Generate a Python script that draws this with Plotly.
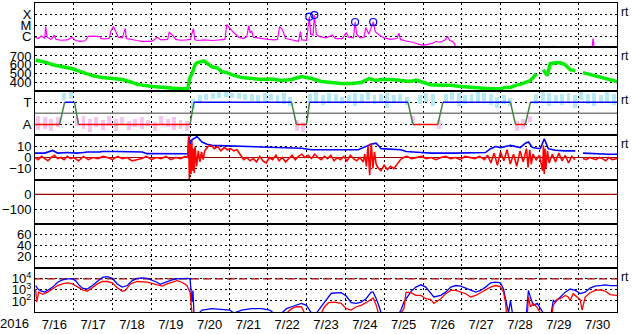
import pandas as pd
import plotly.graph_objects as go
from plotly.subplots import make_subplots

START = pd.Timestamp("2016-07-16 00:00")
END = pd.Timestamp("2016-07-31 00:00")

# ---------------- data (hours from 2016-07-16 00:00 UT) ----------------
# GOES X-ray flux (W/m^2)
xray_h = [0, 2, 4, 6, 6.6, 7.5, 10, 12, 13, 16, 20, 23, 25, 28, 31, 33, 36, 40, 41, 44, 46, 47, 48.5, 50, 51.5, 54,
          55.8, 56.5, 60, 63, 66, 70, 72, 74, 75.5, 78, 82, 83, 85, 87, 90, 94, 96, 98, 98.8, 100, 105, 110, 115,
          117.5, 118.6, 121, 123, 126, 129, 131, 132.2, 133, 134, 135, 140, 144, 148, 150, 151.3, 153, 155, 160,
          163, 164.2, 165, 168, 169.7, 170.5, 172, 172.8, 174, 176, 180, 184, 186, 190, 192.5, 194, 197, 198, 199,
          201, 203.5, 204.6, 206.5, 209.2, 210.5, 213, 216, 220, 224, 225.2, 226, 230, 234, 237, 240, 243, 246,
          248, 250, 252, 254, 255.2, 256.5, 258, 259.6, 260, 301, 301.5, 302, 320, 320.6, 321, 344.5, 345.2, 346, 360]
xray_v = [8e-7, 6e-7, 1.0e-6, 6e-7, 7.4e-6, 8e-7, 5e-7, 1.2e-6, 5e-7, 4.2e-7, 4.5e-7, 7.7e-7, 4e-7, 3.4e-7, 3.8e-7,
          9.5e-7, 1.0e-6, 9e-7, 6e-7, 5.5e-7, 6.3e-7, 3e-6, 7.4e-6, 2.5e-6, 8e-7, 7e-7,
          4.9e-6, 6e-7, 4.5e-7, 4e-7, 3.4e-7, 3.2e-7, 3.4e-7, 5e-7, 7.7e-7, 4.5e-7, 5e-7, 2.2e-6, 1.2e-6, 5e-7,
          4.2e-7, 4.5e-7, 5e-7, 4.9e-6, 5e-7, 4e-7, 4.5e-7, 4e-7, 4.2e-7,
          5e-7, 1.1e-5, 4e-6, 2e-6, 8e-7, 6e-7, 9e-7, 9e-6, 2e-6, 3e-6, 8e-7, 6e-7, 5e-7, 4.5e-7, 5e-7, 7.4e-6,
          4e-6, 6e-7, 4e-7,
          3.4e-7, 2.6e-6, 4.5e-7, 4.2e-7, 5.8e-5, 1.5e-6, 1.2e-6, 8.1e-5, 1.5e-6, 9e-7, 7e-7, 1.2e-6, 6e-7, 6e-7,
          2e-6, 8e-7, 7e-7, 1.9e-5, 1.5e-6,
          7e-7, 8e-7, 6e-6, 1.5e-6, 1.9e-5, 2.5e-6, 1.2e-6, 7e-7, 5e-7, 6e-7, 1.8e-6, 5e-7, 3.4e-7, 2.8e-7, 1.85e-7,
          1.5e-7, 1.8e-7, 2.3e-7,
          3.4e-7, 2.8e-7, 3.4e-7, 5e-7, 9.5e-7, 4e-7, 3.4e-7, 2e-7, 6e-8, 6e-8, 1.3e-7, 6e-8, 6e-8, 1.3e-7, 6e-8,
          6e-8, 6.3e-7, 6e-8, 6e-8]
flare_h = [169.7, 172.8, 198, 209.2]
flare_v = [5.8e-5, 8.1e-5, 1.9e-5, 1.9e-5]

# Solar wind speed (km/s)
vsw_h = [0.4, 4, 7.8, 11, 14, 18.9, 23.2, 26.3, 29.4, 35.5, 41.7, 47.8, 54, 60.2, 63.2, 72.5, 81.7, 89.7, 94.6, 95.5,
         97.1, 99, 100.2, 103.3, 104.5, 109.4, 112.5, 115.6, 118.6, 121.7, 127.9, 134, 140.2, 146.4, 152.5, 158.7,
         164.8, 171, 177.1, 183.3, 189.4, 195.6, 201.7, 206.6, 210.9, 214.1, 220.2, 226.4, 232.5, 235.6, 238.7,
         244.8, 251, 257.2, 263.3, 269.5, 275.6, 281.8, 287.9, 291, 294.1, 297.2, 300.2, 303.3, 306.4, 308.2,
         310.1, 312, 314.4, 316.9, 318.7, 321.8, 324.9, 328, 331, 334.2, 336, 339, 343.3, 349.5, 355.7, 360]
vsw_v = [655, 640, 622, 600, 589, 567, 555, 533, 511, 478, 455, 444, 433, 400, 378, 355, 344, 328, 333, 440,
         500, 600, 622, 633, 644, 578, 567, 522, 511, 489, 455, 444, 433, 440, 422, 433,
         467, 444, 411, 400, 389, 389, 400, 444, 422, 433, 433, 422, 411, 426, 411,
         374, 367, 367, 355, 344, 333, 330, 330, 344, 344, 367, 378, 400, 422, 455,
         500, None, 544, 478, 611, 622, 622, 600, 544, 533, None, 511, 489, 467, 433, 411]

# IMF sector (T = +1, A = -1)
sector_h = [0, 15.2, 18.3, 24.4, 26.9, 95.9, 98.3, 158.7, 161.7, 167.9, 169.8, 230.7, 233.8, 249.2, 252.3,
            294.1, 297.2, 303.3, 306.4, 360]
sector_v = [-1, -1, 1, 1, -1, -1, 1, 1, -1, -1, 1, 1, -1, -1, 1, 1, -1, -1, 1, 1]
phi_h = list(range(2, 360, 4))
phi_hi = [-0.3, -0.4, -0.5, -0.4, 1.8, 1.9, -0.4, -0.3, -0.5, -0.4, -0.6, -0.3, -0.5, -0.4, -0.7, -0.5, -0.4,
          -0.6, -0.8, -0.3, -0.5, -0.4, -0.6, -0.7,
          1.3, 1.6, 1.7, 1.8, 1.9, 1.9, 1.8, 1.8, 1.7, 1.7, 1.6, 1.8, 1.7, 1.6, 1.8, 1.5,
          -0.6, -0.8,
          1.7, 1.9, 1.6, 1.8, 1.7, 1.5, 1.6, 1.8, 1.7, 1.9, 1.6, 1.7, 1.8, 1.6, 1.7, 1.5,
          -0.3, 1.6, 1.8, 1.7, -0.6,
          1.7, 1.9, 1.8, 1.6, 1.7, 1.9, 1.8, 1.7, 1.5, 1.6,
          1.4, -0.7, -0.5, -0.3,
          1.7, 1.9, 1.8, 1.6, 1.7, 1.8, 1.6, 1.9, 1.7, 1.8, 1.6, 1.9, 1.7]
phi_lo = [-1.5, -1.4, -1.6, -1.3, 1.2, 1.3, -1.2, -1.4, -1.7, -1.3, -1.5, -1.2, -1.6, -1.1, -1.5, -1.3, -1.4,
          -1.2, -1.6, -1.1, -1.3, -1.5, -1.4, -1.6,
          0.4, 0.9, 1.2, 1.3, 1.4, 1.5, 1.4, 1.3, 1.2, 1.1, 0.9, 1.0, 1.2, 1.0, 0.8, 0.6,
          -1.6, -1.7,
          0.9, 1.0, 0.7, 0.9, 1.1, 0.8, 1.0, 0.6, 0.9, 1.2, 0.8, 1.0, 0.5, 0.9, 1.1, 0.7,
          -0.9, 0.8, 1.0, 0.6, -1.4,
          0.9, 1.2, 0.6, 0.8, 1.0, 0.9, 1.1, 0.7, 0.5, 0.8,
          0.6, -1.6, -1.4, -0.8,
          0.8, 1.1, 0.6, 0.9, 0.7, 1.0, 0.5, 1.2, 0.8, 0.6, 1.0, 0.9, 0.7]

# IMF Bt and Bz (nT)
bt_h = [0, 6, 11, 14, 20, 26, 30, 32.4, 40, 41.7, 50, 60, 66.3, 69.4, 80, 90, 94.6, 95.2, 96, 97.1, 100.2, 103.3,
        106.4, 109.4, 120, 130, 140, 150, 160, 164.8, 171, 177, 190, 200, 207.9, 210.9, 213, 214, 226.4, 229.5,
        238.7, 245, 260, 270, 278.6, 281.8, 284.9, 287.9, 291, 294.1, 300.2, 303.3, 305.2, 307.7, 312.6, 315,
        317.5, 321.8, 328, 334.2, 336, 339, 345, 350, 355, 360]
bt_v = [4, 4, 6.4, 4, 4.5, 4, 4.5, 5, 5, 5.5, 5.5, 5.5, 5, 3.5, 3.5, 3.4, 3.4, 18.8, 12, 16, 19, 14,
        12, 11, 10.5, 10.4, 10, 9.5, 9, 8.4, 7, 7, 7, 7, 12, 13, 10, 8, 7, 5.5,
        4.5, 4, 4, 4, 4.5, 8, 10, 9, 10, 11, 9, 13, 14, 9, 8, 17,
        8, 6.5, 6, 6, None, 4, 3.5, 3.5, 3, 3]
bz_h = [0, 2, 4, 6, 8, 10, 12, 14, 16, 18, 20, 22, 24, 27, 30, 33, 36, 39, 42, 45, 48, 51, 54, 57, 60, 63, 66, 69,
        72, 75, 78, 81, 84, 87, 90, 93, 94.6, 95, 95.5, 96, 96.5, 97, 97.5, 98, 98.5, 99, 100, 101, 102, 103, 104,
        105, 107, 109, 111, 113, 115, 117, 119, 121, 123, 125, 127, 129, 131, 133, 135, 137, 139, 141, 143, 145,
        147, 149, 151, 153, 155, 157, 159, 161, 163, 165, 167, 169, 171, 173, 175, 177, 179, 181, 183, 185, 187,
        189, 191, 193, 195, 197, 199, 201, 203, 204, 205, 206, 207, 208, 209, 210, 211, 212, 214, 216, 218, 220,
        222, 224, 226, 228, 230, 233, 236, 239, 242, 245, 248, 251, 254, 257, 260, 263, 266, 269, 272, 275, 278,
        280, 282, 284, 286, 288, 290, 292, 294, 296, 298, 300, 302, 304, 305, 306, 307, 308, 310, 312, 314, 314.5,
        315, 315.5, 316, 317, 318, 320, 322, 324, 326, 328, 330, 332, 334, 336, 339, 341, 343, 345, 347, 349, 351,
        353, 355, 357, 360]
bz_v = [0, -2, 1, -1, -3, 0, 2, -1, 0, -2, 1, -1, 0, -3, 1, -2, 0, -1, 1, 0, -2, 1, -1, 0, -3, -2, -1, 1,
        -2, 0, -1, 1, -2, 0, -1, 1, 0, 19, -20, 12, -15, 15, -12, 8, -14, 10, -8, 6, -4, 5, -2,
        6, 10, 11, 8, 10, 6, 9, 7, 8, 6, 7, 3, -2, 0, -3, -1, -4, 1, -3, -5, 0,
        -2, 2, -3, 0, -4, -1, 2, -2, 1, 3, 0, 2, -1, 3, 0, -2, 1, -1, 2, -3, 0,
        -2, 1, -3, 2, -1, -3, 0, -4, 3, -8, 11, -16, 13, -10, 5, -6, -9, -12, -7, -11, -8,
        -10, -6, -2, 0, 1, -1, 0, 1, -1, 0, -2, 0, 1, -1, 0, -2, 1, 0, -1, 1, -2,
        2, -5, 4, -7, 5, -3, 7, -6, 3, -8, 6, -4, 8, -9, 7, -6, 3, -2, 2, -12, 11,
        -15, 8, -10, 6, -5, 3, -4, 4, -3, 2, -5, 1, -2, None, -1, -2, 0, -1, -2, 0, -1,
        -3, 0, -2, -1]

# GOES electron flux (pfu): blue (>0.8 MeV), red (>2 MeV)
e1_h = [0.4, 1.7, 3.5, 6, 7.8, 10.9, 14, 17, 20.1, 23.2, 25.1, 27.5, 29.4, 32.4, 35.5, 38.6, 41.7, 44.8, 47.8,
        50.9, 54, 57.1, 60.2, 63.2, 66.3, 69.4, 72.5, 75.5, 77.4, 80.5, 84.8, 87.9, 90.9, 94, 95.9, 96.5, 97.1,
        97.7, 98.3, 101.4, 103.3, 109.4, 115.6, 120.5, 123, 127.9, 134, 140.2, 145.2, 147.6, 152.5, 155.6, 158.7,
        164.8, 167.9, 169.8, 171, 174.1, 176, 179.1, 183.3, 186.4, 189.4, 192.5, 195.6, 198.7, 201.7, 204.8,
        207.9, 209.2, 211.1, 212.9, 214.1, 225.2, 226.4, 228.2, 230.7, 232.5, 235.6, 238.7, 241.7, 244.8, 246.7,
        251, 254, 257.2, 260.3, 263.3, 269.5, 272.6, 275.6, 278.7, 281.8, 284.9, 287.9, 289.8, 291, 292.3, 292.9,
        294.1, 295.3, 304, 305.2, 306.4, 308.2, 310.7, 312.6, 314.4, 319.3, 320.6, 321.8, 324.9, 328, 331, 334.2,
        337.2, 340.3, 343.3, 346.4, 349.5, 352.6, 355.7, 360]
e1_v = [2500, 1250, 800, 650, 900, 1800, 5000, 8000, 10000, 10000, 7000, 2500, 1450, 1200, 2500, 5800, 13800, 15800,
        11200, 3500, 1800, 2500, 7000, 11200, 12600, 11200, 8000, 5000, 3200, 5000, 8000, 10000, 11200, 11200,
        10000, 1200, 80, 900, 8, 8, 15, 20, 18, 15, 8, 15, 20, 20, 15, 8, 8, 20, 30,
        60, 40, 15, 8, 8, 20, 80, 500, 550, 560, 280, 70, 60, 80, 160,
        630, 630, 160, 30, 8, 8, 15, 80, 300, 700, 1800, 2900, 1800, 460, 230,
        320, 630, 1800, 2500, 2200, 900, 630, 900, 1800, 4400, 5000, 4400, 1200, 160, 30, 8,
        110, 8, 8, 900, 230, 40, 60, 20, 8, 8, 110, 80, 230, 630, 1200, 900,
        460, 630, 1450, 2200, 2500, 2900, 2500, 2500]
e2_h = [0.4, 1, 2.3, 4.7, 7.8, 10.9, 14, 17, 20.1, 23.2, 26.3, 29.4, 32.4, 35.5, 38.6, 41.7, 44.8, 47.8, 50.9, 54,
        55.9, 59, 63.2, 69.4, 75.5, 78.6, 81.7, 87.9, 90.9, 94, 95.9, 97.1, 155.6, 158.7, 161.7, 164.8, 166.7,
        177.1, 179.1, 181.6, 185.3, 189.4, 192.5, 195.6, 198.7, 201.7, 204.8, 207.9, 209.2, 211.1, 212.4, 226.4,
        228.2, 229.5, 232.5, 235.6, 238.7, 241.7, 244.8, 246.7, 251, 254, 257.2, 260.3, 263.3, 266.4, 269.5,
        272.6, 275.6, 278.7, 281.8, 284.9, 287.9, 289.8, 291, 291.6, 304.6, 305.2, 306.4, 308.2, 310.7, 312.6,
        319.9, 320.6, 322.5, 324.9, 328, 329.8, 331, 332.9, 334.2, 337.2, 338.4, 340.3, 343.3, 346.4, 349.5,
        352.6, 355.7, 360]
e2_v = [1250, 80, 630, 400, 630, 1200, 2500, 3500, 4400, 3500, 1800, 1000, 740, 1600, 3500, 5800, 5800, 4400, 1600,
        740, 900, 3500, 5800, 5000, 2900, 2200, 3500, 7000, 5000, 2500, 630, 8, 8, 20, 30, 30, 8,
        8, 30, 70, 80, 60, 20, 15, 30, 40, 70, 160, 190, 40, 8, 8,
        20, 630, 560, 320, 320, 160, 130, 60, 160, 460, 900, 900, 630, 450, 230,
        320, 560, 1000, 1800, 2500, 2000, 630, 80, 8, 8, 230, 30, 60, 25, 8,
        8, 40, 130, 160, 320, 230, 110, 460, 320, 130, 15, 230, 560, 900, 1000,
        800, 380, 320]

year_label = "2016"


def T(hours):
    return [START + pd.Timedelta(hours=h) for h in hours]


BLUE = "#0000ff"
RED = "#ff0000"
DKRED = "#a00000"

fig = make_subplots(rows=7, cols=1, shared_xaxes=True, vertical_spacing=0)
span = [START, END]

# Row 1: X-ray
fig.add_trace(go.Scatter(x=T(xray_h), y=xray_v, mode="lines", line=dict(color="#ff00ff", width=1.2)), row=1, col=1)
fig.add_trace(go.Scatter(x=T(flare_h), y=flare_v, mode="markers",
                         marker=dict(symbol="circle-open", size=7, color=BLUE, line=dict(width=1.2))), row=1, col=1)

# Row 2: solar wind
fig.add_trace(go.Scatter(x=T(vsw_h), y=vsw_v, mode="lines", line=dict(color="#00ee00", width=3.5)), row=2, col=1)

# Row 3: sector
pcol = ["#b4eaf8" if (a + b) > 0 else "#f8c4f2" for a, b in zip(phi_hi, phi_lo)]
fig.add_trace(go.Bar(x=T(phi_h), y=[a - b for a, b in zip(phi_hi, phi_lo)], base=phi_lo, width=2.4 * 3600e3,
                     marker=dict(color=pcol, line=dict(width=0))), row=3, col=1)
fig.add_trace(go.Scatter(x=span, y=[0, 0], mode="lines", line=dict(color="#808080", width=1.5)), row=3, col=1)
for i in range(len(sector_h) - 1):
    a, b = sector_v[i], sector_v[i + 1]
    c = BLUE if (a == 1 and b == 1) else (RED if (a == -1 and b == -1) else "#408040")
    fig.add_trace(go.Scatter(x=T(sector_h[i:i + 2]), y=[a, b], mode="lines", line=dict(color=c, width=1.5)),
                  row=3, col=1)

# Row 4: Bt / Bz
fig.add_trace(go.Scatter(x=span, y=[0, 0], mode="lines", line=dict(color=DKRED, width=1.2)), row=4, col=1)
fig.add_trace(go.Scatter(x=T(bt_h), y=bt_v, mode="lines", line=dict(color=BLUE, width=1.6)), row=4, col=1)
fig.add_trace(go.Scatter(x=T(bz_h), y=bz_v, mode="lines", line=dict(color=RED, width=1.6)), row=4, col=1)

# Row 5: zero line only
fig.add_trace(go.Scatter(x=span, y=[0, 0], mode="lines", line=dict(color=DKRED, width=1.2)), row=5, col=1)

# Row 6: no data in this period (placeholder so the panel is drawn)
fig.add_trace(go.Scatter(x=span, y=[None, None], mode="lines"), row=6, col=1)

# Row 7: electrons
fig.add_trace(go.Scatter(x=span, y=[1e4, 1e4], mode="lines", line=dict(color=DKRED, width=1.3, dash="8px,4px")),
              row=7, col=1)
fig.add_trace(go.Scatter(x=T(e1_h), y=e1_v, mode="lines", line=dict(color=BLUE, width=1.3)), row=7, col=1)
fig.add_trace(go.Scatter(x=T(e2_h), y=e2_v, mode="lines", line=dict(color=RED, width=1.3)), row=7, col=1)

FONT = dict(family="Liberation Sans, Arial, sans-serif", size=13, color="black")
common = dict(showline=True, mirror=True, linecolor="black", linewidth=1, ticks="", showgrid=True,
              gridcolor="#000000", griddash="2px,3px", gridwidth=1, zeroline=False, fixedrange=True,
              tickfont=FONT)
fig.update_xaxes(**common, type="date", range=span, dtick=86400000, tick0=START, showticklabels=False)
fig.update_xaxes(row=7, col=1, showticklabels=True, tickformat="%-m/%-d", ticklabelmode="period")
fig.update_yaxes(**common)
fig.update_yaxes(row=1, col=1, type="log", range=[-7, -3], tickvals=[1e-4, 1e-5, 1e-6], ticktext=["X", "M", "C"])
fig.update_yaxes(row=2, col=1, range=[300, 800], tickvals=[400, 500, 600, 700])
fig.update_yaxes(row=3, col=1, range=[-2, 2], tickvals=[1, -1], ticktext=["T", "A"])
fig.update_yaxes(row=4, col=1, range=[-20, 20], tickvals=[10, 0, -10])
fig.update_yaxes(row=5, col=1, range=[-200, 100], tickvals=[0, -100])
fig.update_yaxes(row=6, col=1, range=[0, 80], tickvals=[20, 40, 60])
fig.update_yaxes(row=7, col=1, type="log", range=[1, 5], tickvals=[1e2, 1e3, 1e4],
                 ticktext=["10<sup>2</sup>", "10<sup>3</sup>", "10<sup>4</sup>"])

ann = [dict(text=year_label, xref="paper", yref="paper", x=0, y=0, xanchor="right", yanchor="top",
            xshift=-4, yshift=-2, showarrow=False, font=FONT)]
for r in [1, 2, 3, 4, 7]:
    yref = "y domain" if r == 1 else f"y{r} domain"
    ann.append(dict(text="rt", xref="paper", yref=yref, x=1, y=1, xanchor="left", yanchor="middle",
                    xshift=2, yshift=-9, showarrow=False,
                    font=dict(family="Liberation Sans, Arial, sans-serif", size=12, color="black")))
fig.update_layout(width=633, height=334, margin=dict(l=32, r=16, t=2, b=17), showlegend=False,
                  plot_bgcolor="white", paper_bgcolor="white", annotations=ann, hovermode=False,
                  bargap=0, font=FONT)

fig.write_html("out.html", config={"displayModeBar": False})
